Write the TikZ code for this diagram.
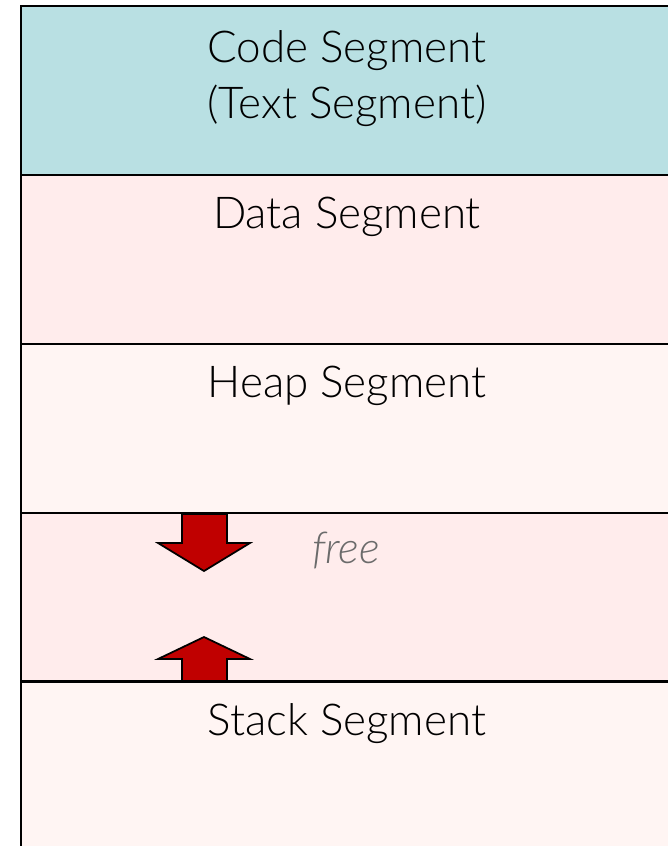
\documentclass[tikz,border=0pt]{standalone}
\usepackage{fontspec}
\setmainfont{Lato}[UprightFont=* Light, ItalicFont=* Light Italic]
\usetikzlibrary{positioning}
\definecolor{codefill}{HTML}{B9E0E3}
\definecolor{darkpink}{HTML}{FFECEC}
\definecolor{lightpink}{HTML}{FFF5F3}
\definecolor{arrowred}{HTML}{C00000}
\definecolor{freegray}{HTML}{6B6B6B}
\tikzset{
  seg/.style={draw, line width=1.6pt, minimum width=13.04cm, minimum height=3.38cm, inner sep=0pt, outer sep=0pt},
  segtext/.style={font=\fontsize{25}{32.4}\selectfont, align=center, anchor=base},
  growarrow/.style={draw, line width=1pt, fill=arrowred, line join=miter}
}
\begin{document}
\begin{tikzpicture}[x=0.02cm, y=-0.02cm, node distance=0pt]
  \useasboundingbox (0,0) rectangle (667,846);
  \fill[white] (0,0) rectangle (667,846);

  % Nodes
  \node[seg, fill=codefill, anchor=north west] (code) at (21,6) {};
  \node[seg, fill=darkpink, below=of code] (data) {};
  \node[seg, fill=lightpink, below=of data] (heap) {};
  \node[seg, fill=darkpink, below=of heap] (free) {};
  \node[seg, fill=lightpink, below=of free] (stack) {};

  \node[segtext] (codelabel) at ([yshift=-2.26cm]code.north) {Code Segment\\(Text Segment)};
  \node[segtext] (datalabel) at ([yshift=-1.08cm]data.north) {Data Segment};
  \node[segtext] (heaplabel) at ([yshift=-1.08cm]heap.north) {Heap Segment};
  \node[segtext, text=freegray] (freelabel) at (346,563) {\itshape free};
  \node[segtext] (stacklabel) at ([yshift=-1.08cm]stack.north) {Stack Segment};

  % Arrows
  \draw[growarrow] (182,514) -- (227,514) -- (227,543) -- (250,543) -- (204,571)
    -- (158,543) -- (182,543) -- cycle;
  \draw[growarrow] (182,681) -- (227,681) -- (227,659) -- (250,659) -- (204,637)
    -- (158,659) -- (182,659) -- cycle;
\end{tikzpicture}
\end{document}
